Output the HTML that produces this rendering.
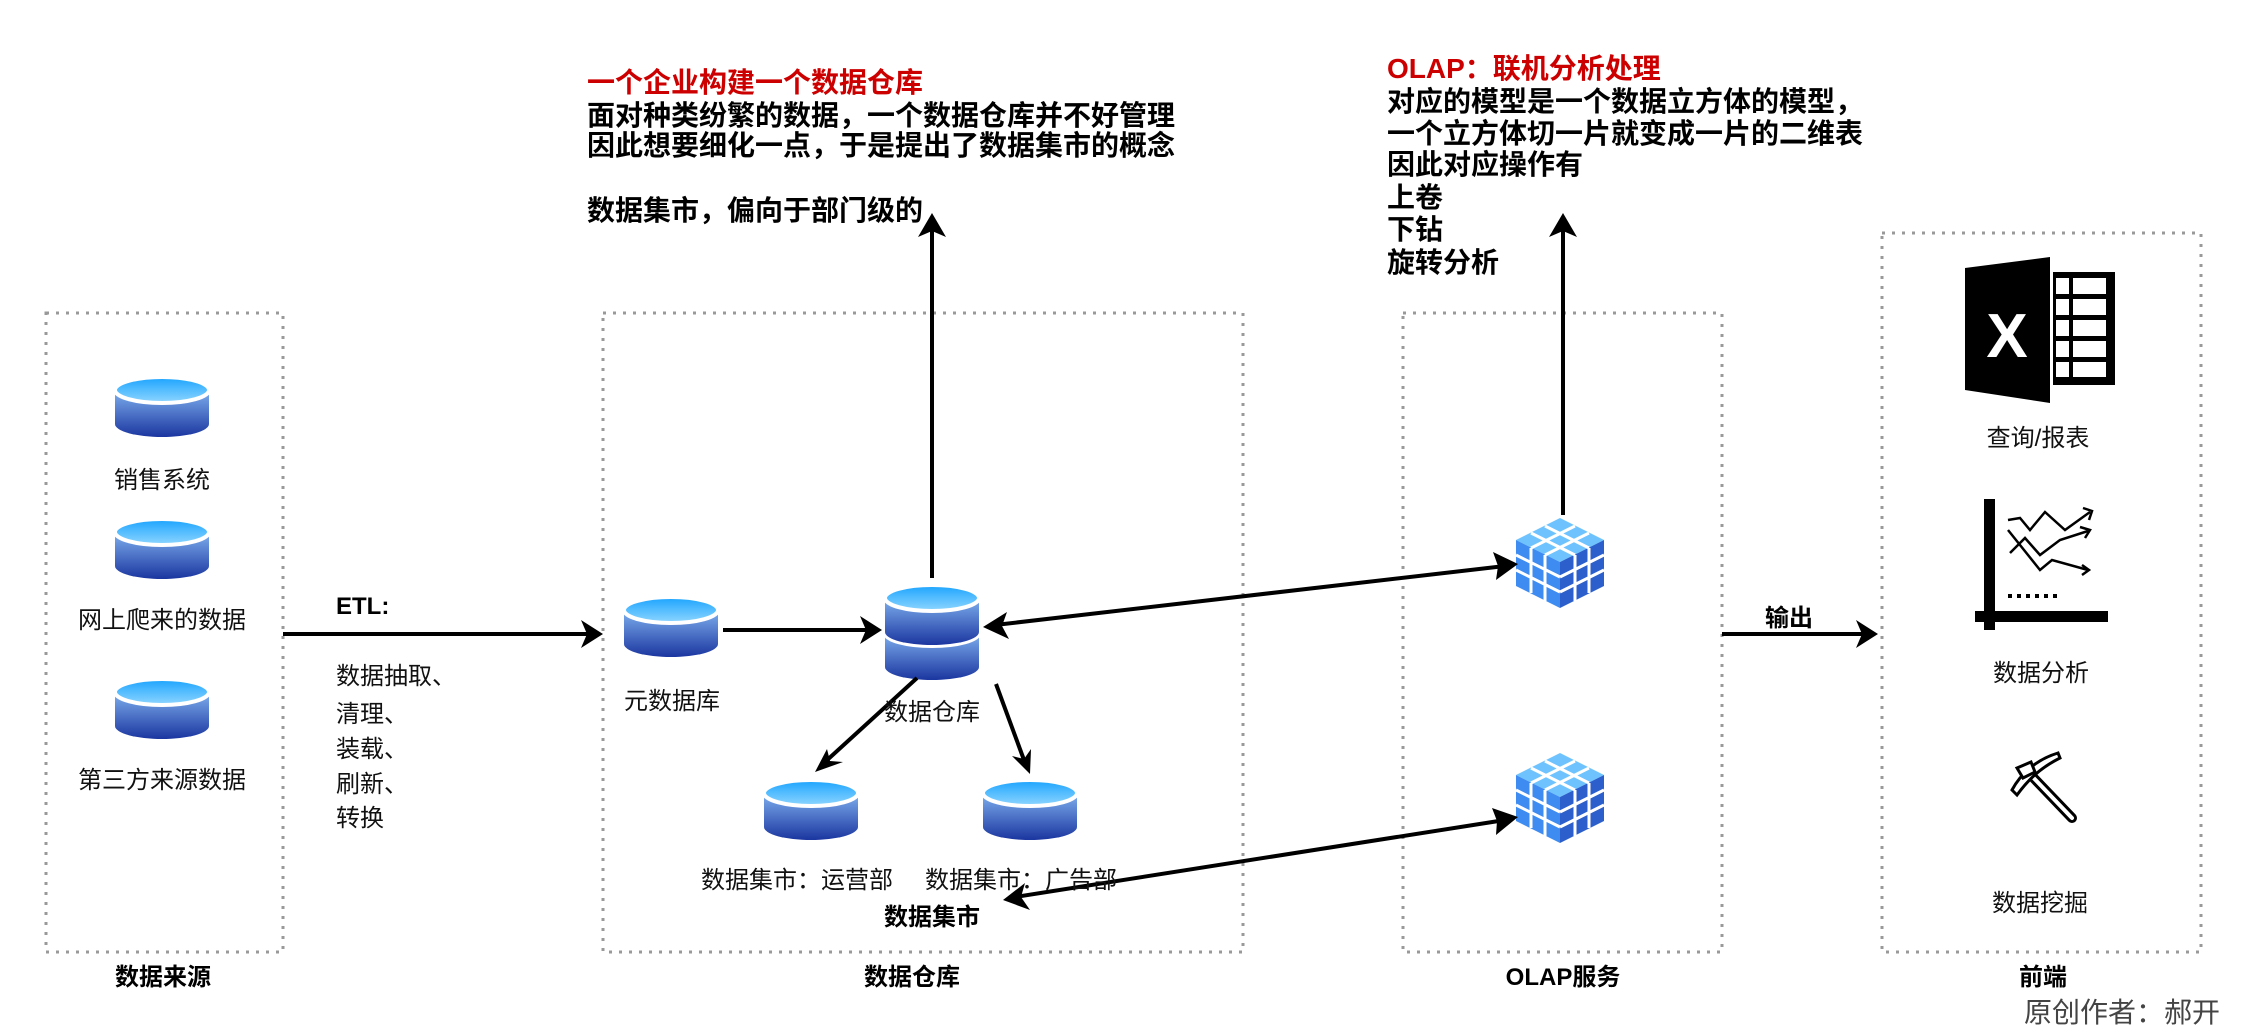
<!DOCTYPE html>
<html><head><meta charset="utf-8"><style>
html,body{margin:0;padding:0;background:#fff;}
svg{display:block;}
text{font-family:"Liberation Sans","Noto Sans CJK SC",sans-serif;}
</style></head><body>
<svg width="2244" height="1034" viewBox="0 0 2244 1034" xmlns="http://www.w3.org/2000/svg">
<defs>
<linearGradient id="top" x1="0" y1="0" x2="0" y2="1"><stop offset="0" stop-color="#1aa3ff"/><stop offset="1" stop-color="#8fd6ff"/></linearGradient>
<linearGradient id="body" x1="0" y1="0" x2="0" y2="1"><stop offset="0" stop-color="#7fb0ee"/><stop offset="1" stop-color="#1b36a0"/></linearGradient>
<g id="cyl">
<path d="M-47,-17 V17 A47,13 0 0 0 47,17 V-17 Z" fill="url(#body)"/>
<ellipse cx="0" cy="-17" rx="47" ry="13" fill="url(#top)" stroke="#fff" stroke-width="4"/>
</g>
<g id="cube">
<polygon points="0,-44 44,-22 0,0 -44,-22" fill="#6ec3ff"/>
<polygon points="-44,-22 0,0 0,46 -44,24" fill="#3e8cf2"/>
<polygon points="44,-22 0,0 0,46 44,24" fill="#2c5fcc"/>
<g stroke="#fff" stroke-width="3" fill="none">
<line x1="-15" y1="-36" x2="29" y2="-14"/><line x1="15" y1="-36" x2="-29" y2="-14"/>
<line x1="-29" y1="-29" x2="15" y2="-7"/><line x1="29" y1="-29" x2="-15" y2="-7"/>
<line x1="-15" y1="-7" x2="-15" y2="39"/><line x1="-29" y1="-14" x2="-29" y2="31"/>
<line x1="15" y1="-7" x2="15" y2="39"/><line x1="29" y1="-14" x2="29" y2="31"/>
<line x1="-44" y1="-7" x2="0" y2="15"/><line x1="-44" y1="8" x2="0" y2="30"/>
<line x1="44" y1="-7" x2="0" y2="15"/><line x1="44" y1="8" x2="0" y2="30"/>
</g>
</g>
</defs>

<g fill="none" stroke="#999" stroke-width="3" stroke-dasharray="3,7">
<rect x="46" y="313" width="237" height="639"/>
<rect x="603" y="313" width="640" height="639"/>
<rect x="1403" y="313" width="319" height="639"/>
<rect x="1882" y="233" width="319" height="719"/>
</g>

<use href="#cyl" x="162" y="407"/>
<use href="#cyl" x="162" y="549"/>
<use href="#cyl" x="162" y="709"/>
<use href="#cyl" x="671" y="627"/>
<use href="#cyl" x="932" y="650"/>
<use href="#cyl" x="932" y="615"/>
<use href="#cyl" x="811" y="810"/>
<use href="#cyl" x="1030" y="810"/>

<use href="#cube" x="1560" y="562"/>
<use href="#cube" x="1560" y="797"/>

<g stroke="#000" stroke-width="4" fill="none">
<line x1="283" y1="634" x2="590" y2="634"/>
<line x1="723" y1="630" x2="870" y2="630"/>
<line x1="932" y1="578" x2="932" y2="228"/>
<line x1="1563" y1="515" x2="1563" y2="228"/>
<line x1="995" y1="625" x2="1505" y2="566"/>
<line x1="1015" y1="897" x2="1505" y2="820"/>
<line x1="1722" y1="634" x2="1865" y2="634"/>
<line x1="917" y1="678" x2="825" y2="762"/>
<line x1="996" y1="684" x2="1024" y2="760"/>
</g>
<g fill="#000">
<polygon points="603,634 581,620 587,634 581,648"/>
<polygon points="882,630 860,616 866,630 860,644"/>
<polygon points="932,213 918,237 932,231 946,237"/>
<polygon points="1563,213 1549,237 1563,231 1577,237"/>
<polygon points="983,627 1007,612 1002,626 1009,639"/>
<polygon points="1518,564 1493,552 1498,566 1496,580"/>
<polygon points="1003,900 1025,883 1021,897 1030,910"/>
<polygon points="1518,817 1492,808 1497,821 1496,835"/>
<polygon points="1878,634 1856,620 1862,634 1856,648"/>
<polygon points="815,772 827,749 830,761 843,762"/>
<polygon points="1030,774 1012,756 1024,759 1031,749"/>
</g>

<g font-size="24" fill="#111" text-anchor="middle">
<text x="162" y="488">销售系统</text>
<text x="162" y="628">网上爬来的数据</text>
<text x="162" y="788">第三方来源数据</text>
<text x="672" y="709">元数据库</text>
<text x="932" y="720">数据仓库</text>
<text x="797" y="888">数据集市：运营部</text>
<text x="1021" y="888">数据集市：广告部</text>
<text x="2038" y="446">查询/报表</text>
<text x="2041" y="681">数据分析</text>
<text x="2040" y="911">数据挖掘</text>
</g>
<g font-size="24" fill="#111">
<text x="336" y="684">数据抽取、</text>
<text x="336" y="722">清理、</text>
<text x="336" y="757">装载、</text>
<text x="336" y="792">刷新、</text>
<text x="336" y="826">转换</text>
</g>
<g font-size="24" font-weight="bold" fill="#000" text-anchor="middle">
<text x="163" y="985">数据来源</text>
<text x="912" y="985">数据仓库</text>
<text x="1563" y="985">OLAP服务</text>
<text x="2043" y="985">前端</text>
<text x="932" y="925">数据集市</text>
<text x="1789" y="626">输出</text>
</g>
<text x="336" y="614" font-size="24" font-weight="bold">ETL:</text>

<g font-size="28" font-weight="bold" fill="#000">
<text x="587" y="92" fill="#cc0000">一个企业构建一个数据仓库</text>
<text x="587" y="125">面对种类纷繁的数据，一个数据仓库并不好管理</text>
<text x="587" y="155">因此想要细化一点，于是提出了数据集市的概念</text>
<text x="587" y="220">数据集市，偏向于部门级的</text>
<text x="1387" y="78" fill="#cc0000">OLAP：联机分析处理</text>
<text x="1387" y="111">对应的模型是一个数据立方体的模型，</text>
<text x="1387" y="143">一个立方体切一片就变成一片的二维表</text>
<text x="1387" y="174">因此对应操作有</text>
<text x="1387" y="207">上卷</text>
<text x="1387" y="239">下钻</text>
<text x="1387" y="272">旋转分析</text>
</g>
<text x="2220" y="1022" font-size="28" fill="#444" text-anchor="end">原创作者：郝开</text>

<!-- excel icon -->
<polygon points="1965,268 2050,257 2050,403 1965,390" fill="#000"/>
<rect x="2053" y="272" width="62" height="113" fill="#000"/>
<g fill="#fff">
<rect x="2056" y="278" width="13" height="16"/><rect x="2073" y="278" width="33" height="16"/>
<rect x="2056" y="299" width="13" height="16"/><rect x="2073" y="299" width="33" height="16"/>
<rect x="2056" y="320" width="13" height="16"/><rect x="2073" y="320" width="33" height="16"/>
<rect x="2056" y="341" width="13" height="16"/><rect x="2073" y="341" width="33" height="16"/>
<rect x="2056" y="362" width="13" height="15"/><rect x="2073" y="362" width="33" height="15"/>
</g>
<text x="2007" y="357" font-size="62" font-weight="bold" fill="#fff" text-anchor="middle">X</text>

<!-- chart icon -->
<g fill="#000"><rect x="1984" y="499" width="11" height="131"/><rect x="1975" y="611" width="133" height="11"/></g>
<g stroke="#000" stroke-width="2.5" fill="none">
<polyline points="2008,520 2020,518 2030,530 2045,512 2065,530 2090,512"/>
<polyline points="2010,553 2025,538 2040,555 2060,540 2088,531"/>
<polyline points="2008,530 2040,570 2052,560 2088,570"/>
<polyline points="2083,508 2092,511 2089,520"/>
<polyline points="2080,527 2090,530 2085,538"/>
<polyline points="2082,565 2089,570 2082,575"/>
<line x1="2008" y1="596" x2="2060" y2="596" stroke-dasharray="4,5" stroke-width="4"/>
</g>

<!-- pickaxe -->
<g stroke="#000" stroke-width="10" stroke-linecap="round" fill="none">
<line x1="2026" y1="770" x2="2072" y2="818"/>
</g>
<g stroke="#fff" stroke-width="4" stroke-linecap="round" fill="none">
<line x1="2026" y1="770" x2="2072" y2="818"/>
</g>
<path d="M2012,790 C2020,775 2035,760 2058,753 L2060,758 C2040,768 2028,780 2017,795 Z" fill="#fff" stroke="#000" stroke-width="3"/>
<path d="M2017,768 l14,-6 l4,10 l-12,6 z" fill="#fff" stroke="#000" stroke-width="3"/>
</svg>
</body></html>
